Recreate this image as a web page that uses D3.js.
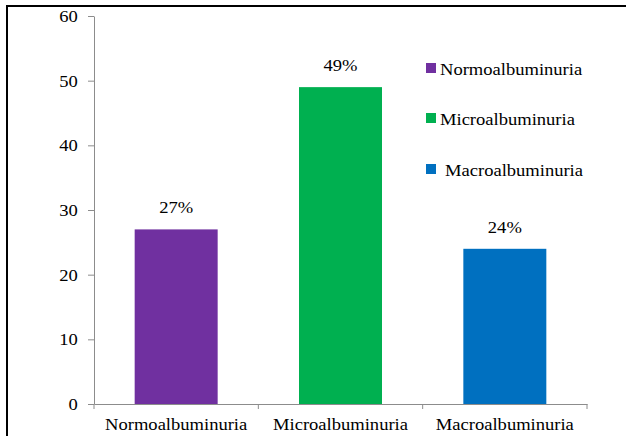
<!DOCTYPE html>
<html>
<head>
<meta charset="utf-8">
<script src="https://cdn.jsdelivr.net/npm/d3@7"></script>
<style>
  html, body { margin: 0; padding: 0; background: #fff; }
  svg { display: block; }
  text { font-family: "Liberation Serif", "Times New Roman", serif; font-size: 16px; fill: #000; }
</style>
</head>
<body>
<svg id="chart" width="626" height="436"></svg>
<script>
// Albuminuria categories and their share of patients (%)
const categories = ["Normoalbuminuria", "Microalbuminuria", "Macroalbuminuria"];
const values = [27, 49, 24];
const valueLabels = ["27%", "49%", "24%"];
const colors = ["#7030A0", "#00B050", "#0070C0"];
const yTicks = [0, 10, 20, 30, 40, 50, 60];

const W = 626, H = 436;
const plot = { left: 94, right: 587, top: 16, bottom: 404 };
const stretch = 1.16;   // wide serif lettering
const axisColor = "#8c8c8c";

const svg = d3.select("#chart");

// outer frame (left and top edges)
svg.append("path")
  .attr("d", `M7,${H} V6 H${W}`)
  .attr("fill", "none")
  .attr("stroke", "#000")
  .attr("stroke-width", 2);

const x = d3.scaleBand().domain(categories).range([plot.left, plot.right]).padding(0);
const y = d3.scaleLinear().domain([0, 60]).range([plot.bottom, plot.top]);
const barW = x.bandwidth() * 0.505;

// bars
svg.append("g").selectAll("rect")
  .data(categories)
  .join("rect")
  .attr("x", (d) => x(d) + (x.bandwidth() - barW) / 2)
  .attr("y", (d, i) => y(values[i]))
  .attr("width", barW)
  .attr("height", (d, i) => y(0) - y(values[i]))
  .attr("fill", (d, i) => colors[i]);

// value labels above bars
svg.append("g").selectAll("text")
  .data(categories)
  .join("text")
  .attr("text-anchor", "middle")
  .attr("transform", (d, i) => `translate(${x(d) + x.bandwidth() / 2},${y(values[i]) - 16}) scale(${stretch},1)`)
  .text((d, i) => valueLabels[i]);

// y axis
const yAxis = svg.append("g")
  .attr("transform", `translate(${plot.left},0)`)
  .call(d3.axisLeft(y).tickValues(yTicks).tickSize(6).tickSizeOuter(0).tickFormat(d3.format("d")));
yAxis.select(".domain").attr("stroke", axisColor);
yAxis.selectAll(".tick line").attr("stroke", axisColor);
yAxis.selectAll(".tick text")
  .attr("x", -14)
  .attr("dy", "0.34em")
  .attr("fill", "#000")
  .attr("transform", `scale(${stretch},1)`)
  .style("font-family", null)
  .style("font-size", null);
yAxis.attr("font-family", null).attr("font-size", null);

// x axis with ticks on category boundaries
const xAxis = svg.append("g")
  .attr("transform", `translate(0,${plot.bottom})`)
  .call(d3.axisBottom(x).tickSize(0).tickSizeOuter(0));
xAxis.attr("font-family", null).attr("font-size", null);
xAxis.select(".domain").attr("stroke", axisColor);
xAxis.selectAll(".tick text")
  .attr("y", 26)
  .attr("dy", 0)
  .attr("fill", "#000")
  .attr("transform", `scale(${stretch},1)`);
const bounds = categories.map((d) => x(d)).concat([x.range()[1]]);
xAxis.selectAll("line.boundary")
  .data(bounds)
  .join("line")
  .attr("class", "boundary")
  .attr("x1", (d) => d).attr("x2", (d) => d)
  .attr("y1", 0).attr("y2", 5)
  .attr("stroke", axisColor);

// legend
const legendY = [69, 119, 170];
const legendTextX = [440, 440, 445];
const legend = svg.append("g").selectAll("g")
  .data(categories)
  .join("g");
legend.append("rect")
  .attr("x", 426)
  .attr("y", (d, i) => legendY[i] - 6)
  .attr("width", 10)
  .attr("height", 10)
  .attr("fill", (d, i) => colors[i]);
legend.append("text")
  .attr("transform", (d, i) => `translate(${legendTextX[i]},${legendY[i] + 6}) scale(${stretch},1)`)
  .text((d) => d);
</script>
</body>
</html>
